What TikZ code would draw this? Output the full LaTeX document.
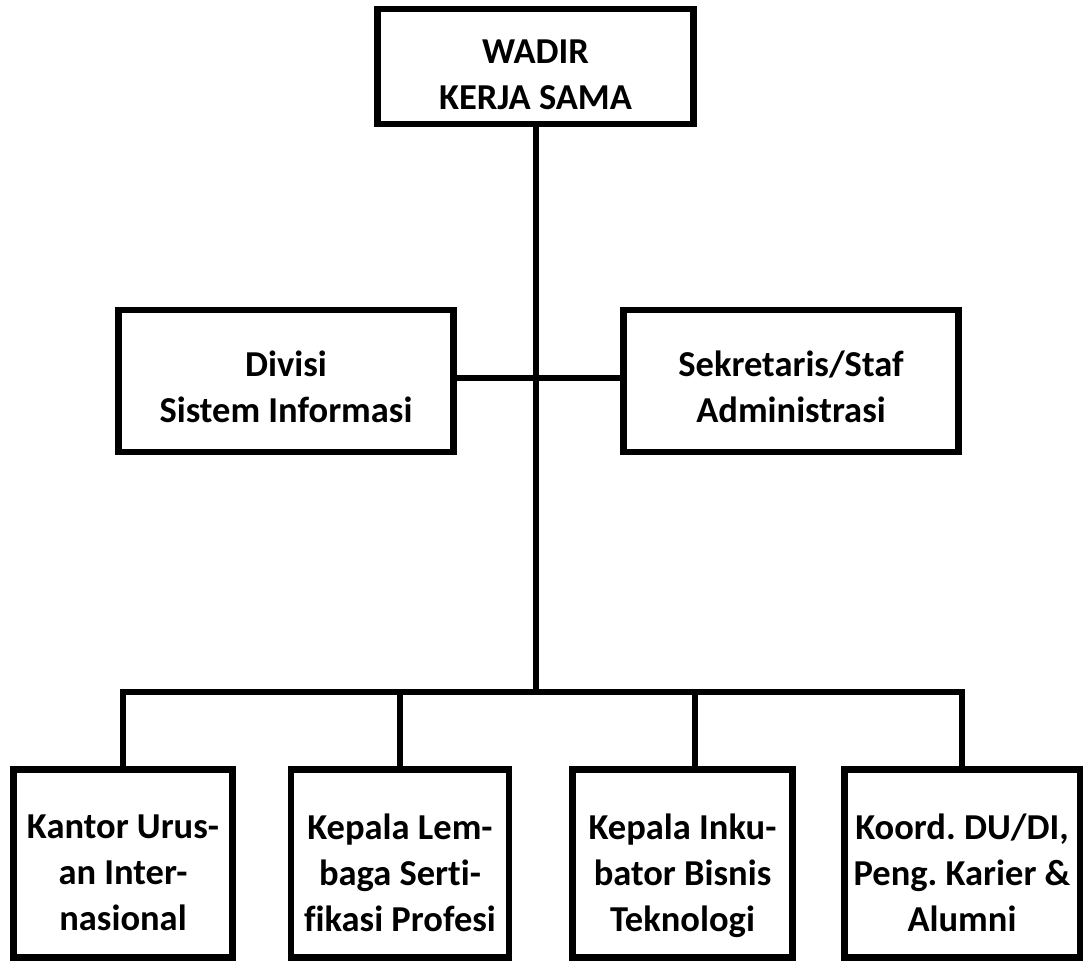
\documentclass[tikz,border=0pt]{standalone}
\usepackage{fontspec}
\setmainfont{Carlito}[Ligatures={TeX,NoCommon}]
\frenchspacing

\begin{document}
\begin{tikzpicture}[x=1pt,y=-1pt,
    box/.style={rectangle, draw, line width=6.5pt},
    lbl/.style={font=\fontsize{36.5}{46}\selectfont\bfseries, align=center},
    link/.style={line width=6pt}]

    \useasboundingbox (0,0) rectangle (1085,961);

    % top
    \node[box,
          minimum width = 316pt,
          minimum height = 115pt
          ] (wadir) at (535.5,66.5) {};
    \node[lbl] (wadirtxt) at ([yshift=-8pt]wadir.center) {WADIR\\KERJA SAMA};

    % staff row
    \node[box,
          minimum width = 335pt,
          minimum height = 142pt
          ] (divisi) at (286,381) {};
    \node[lbl] (divisitxt) at ([yshift=-6pt]divisi.center) {Divisi\\Sistem Informasi};

    \node[box,
          minimum width = 335pt,
          minimum height = 142pt
          ] (sekre) at (791,381) {};
    \node[lbl] (sekretxt) at ([yshift=-6pt]sekre.center) {Sekretaris/Staf\\Administrasi};

    % units
    \node[box,
          minimum width = 219pt,
          minimum height = 188pt
          ] (kantor) at (123,863.5) {};
    \node[lbl] (kantortxt) at ([yshift=-9pt]kantor.center) {Kantor Urus-\\an Inter-\\nasional};

    \node[box,
          minimum width = 218pt,
          minimum height = 188pt
          ] (lembaga) at (400,863.5) {};
    \node[lbl] (lembagatxt) at ([yshift=-9pt]lembaga.center) {Kepala Lem-\\baga Serti-\\fikasi Profesi};

    \node[box,
          minimum width = 220pt,
          minimum height = 188pt
          ] (inkub) at (682.5,863.5) {};
    \node[lbl] (inkubtxt) at ([yshift=-12.5pt]inkub.center) {Kepala Inku-\\bator Bisnis\\Teknologi};

    \node[box,
          minimum width = 235.5pt,
          minimum height = 188pt
          ] (koord) at (962,863.5) {};
    \node[lbl] (koordtxt) at ([yshift=-9pt]koord.center) {Koord. DU/DI,\\Peng. Karier \&\\Alumni};

    \coordinate (bus) at (536,692);
    \coordinate (mid) at (536,378);
    \coordinate (drop3) at (695,692);

    %lines
    \draw[link] (wadir.south) -- (wadir.south |- bus);
    \draw[link] (divisi.east |- mid) -- (sekre.west |- mid);
    \draw[link] (kantor.north) -- (kantor.north |- bus) -| (koord.north);
    \draw[link] (lembaga.north) -- (lembaga.north |- bus);
    \draw[link] (drop3) -- (drop3 |- inkub.north);

\end{tikzpicture}
\end{document}
